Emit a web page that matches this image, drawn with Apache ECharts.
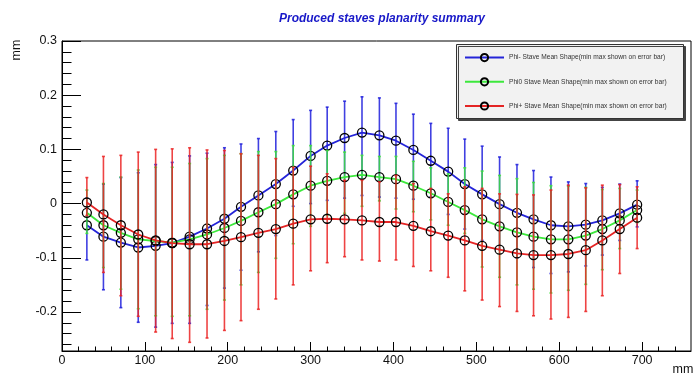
<!DOCTYPE html>
<html>
<head>
<meta charset="utf-8">
<script src="https://cdn.jsdelivr.net/npm/echarts@6/dist/echarts.min.js"></script>
<style>html,body{margin:0;padding:0;background:#fff;}#c{width:693px;height:376px;}</style>
</head>
<body>
<div id="c"></div>
<script>
const xPos = [30, 50, 71, 92, 113, 133, 154, 175, 196, 216, 237, 258, 279, 300, 320, 341, 362, 383, 403, 424, 445, 466, 486, 507, 528, 549, 569, 590, 611, 632, 652, 673, 694];

const phiMinusMean = [-0.040,-0.061,-0.072,-0.081,-0.078,-0.073,-0.061,-0.046,-0.028,-0.006,0.015,0.036,0.061,0.088,0.107,0.121,0.131,0.126,0.116,0.099,0.079,0.059,0.036,0.017,-0.001,-0.017,-0.029,-0.040,-0.042,-0.039,-0.031,-0.018,-0.002];
const phiMinusMax  = [0.010,0.036,0.048,0.057,0.072,0.076,0.088,0.093,0.103,0.110,0.120,0.133,0.155,0.172,0.178,0.189,0.197,0.195,0.185,0.165,0.148,0.139,0.119,0.106,0.086,0.072,0.061,0.049,0.040,0.037,0.030,0.036,0.042];
const phiMinusMin  = [-0.104,-0.159,-0.192,-0.219,-0.228,-0.221,-0.221,-0.188,-0.156,-0.123,-0.089,-0.059,-0.005,0.000,0.006,0.010,0.015,0.012,0.010,0.008,0.012,-0.020,-0.047,-0.068,-0.085,-0.100,-0.118,-0.129,-0.126,-0.115,-0.095,-0.068,-0.043];

const phi0Mean = [-0.017,-0.040,-0.054,-0.066,-0.069,-0.072,-0.066,-0.057,-0.045,-0.032,-0.016,-0.001,0.017,0.033,0.042,0.049,0.053,0.049,0.045,0.033,0.019,0.003,-0.012,-0.029,-0.042,-0.053,-0.061,-0.066,-0.066,-0.059,-0.047,-0.031,-0.012];
const phi0Max  = [0.025,0.037,0.049,0.062,0.067,0.067,0.074,0.083,0.089,0.092,0.096,0.096,0.107,0.107,0.098,0.095,0.089,0.087,0.087,0.078,0.066,0.055,0.066,0.060,0.052,0.046,0.039,0.033,0.032,0.030,0.026,0.028,0.025];
const phi0Min  = [-0.055,-0.118,-0.158,-0.194,-0.207,-0.208,-0.207,-0.195,-0.178,-0.150,-0.127,-0.101,-0.074,-0.042,-0.022,-0.018,-0.005,0.005,-0.010,-0.015,-0.030,-0.040,-0.055,-0.117,-0.136,-0.150,-0.158,-0.165,-0.160,-0.149,-0.122,-0.083,-0.035];

const phiPlusMean = [0.002,-0.020,-0.040,-0.057,-0.068,-0.073,-0.075,-0.075,-0.069,-0.062,-0.054,-0.047,-0.037,-0.029,-0.028,-0.029,-0.031,-0.034,-0.034,-0.041,-0.051,-0.059,-0.068,-0.078,-0.085,-0.092,-0.095,-0.095,-0.093,-0.086,-0.068,-0.047,-0.026];
const phiPlusMax  = [0.048,0.087,0.089,0.095,0.100,0.101,0.103,0.099,0.098,0.092,0.089,0.083,0.067,0.069,0.055,0.043,0.043,0.040,0.052,0.037,0.028,0.018,0.031,0.028,0.018,0.017,0.016,0.025,0.034,0.029,0.034,0.035,0.031];
const phiPlusMin  = [-0.022,-0.127,-0.170,-0.208,-0.237,-0.249,-0.256,-0.248,-0.234,-0.216,-0.195,-0.176,-0.150,-0.124,-0.109,-0.098,-0.104,-0.106,-0.104,-0.116,-0.124,-0.136,-0.161,-0.178,-0.190,-0.199,-0.207,-0.213,-0.210,-0.199,-0.170,-0.129,-0.083];

const seriesNames = ['Phi- Stave Mean Shape(min max shown on error bar)', 'Phi0 Stave Mean Shape(min max shown on error bar)', 'Phi+ Stave Mean Shape(min max shown on error bar)'];

const xLabelTicks = [0, 100, 200, 300, 400, 500, 600, 700];
const xMinorTicks = [20,40,60,80,120,140,160,180,220,240,260,280,320,340,360,380,420,440,460,480,520,540,560,580,620,640,660,680,720,740];
const yLabelTicks = [-0.2, -0.1, 0, 0.1, 0.2, 0.3];
const yMinorTicks = [-0.26,-0.24,-0.22,-0.18,-0.16,-0.14,-0.12,-0.08,-0.06,-0.04,-0.02,0.02,0.04,0.06,0.08,0.12,0.14,0.16,0.18,0.22,0.24,0.26,0.28];

const chart = echarts.init(document.getElementById('c'), null, {renderer: 'canvas'});

function errSeries(name, lows, highs, color, z) {
  return {
    type: 'custom', name: name, z: z, silent: true,
    xAxisIndex: 0, yAxisIndex: 0,
    data: xPos.map((x, i) => [x, lows[i], highs[i]]),
    encode: {x: 0, y: [1, 2]},
    renderItem: function (params, api) {
      const x = api.value(0);
      const lo = api.coord([x, api.value(1)]);
      const hi = api.coord([x, api.value(2)]);
      const st = {stroke: color, lineWidth: 1.6};
      return {type: 'group', children: [
        {type: 'line', shape: {x1: lo[0], y1: lo[1], x2: hi[0], y2: hi[1]}, style: st},
        {type: 'line', shape: {x1: lo[0] - 1.5, y1: lo[1], x2: lo[0] + 1.5, y2: lo[1]}, style: st},
        {type: 'line', shape: {x1: hi[0] - 1.5, y1: hi[1], x2: hi[0] + 1.5, y2: hi[1]}, style: st}
      ]};
    }
  };
}

function meanSeries(name, vals, color, z) {
  return {
    type: 'line', name: name, z: z,
    xAxisIndex: 0, yAxisIndex: 0,
    data: xPos.map((x, i) => [x, vals[i]]),
    symbol: 'circle', symbolSize: 9, showSymbol: true,
    lineStyle: {color: color, width: 1.8},
    itemStyle: {color: 'transparent', borderColor: '#000', borderWidth: 1.3},
    emphasis: {disabled: true},
    animation: false
  };
}

const blue = '#2424d8', green = '#3de83d', red = '#e42424';

chart.setOption({
  animation: false,
  backgroundColor: '#fff',
  textStyle: {fontFamily: 'Liberation Sans, Arial, sans-serif'},
  title: {
    text: 'Produced staves planarity summary',
    left: 377, top: 8, textAlign: 'center',
    textStyle: {color: '#1818c8', fontSize: 12, fontWeight: 'bold', fontStyle: 'italic', fontFamily: 'Liberation Sans, Arial, sans-serif'}
  },
  grid: {left: 62, right: 2, top: 41, bottom: 25, show: true, borderColor: '#000', borderWidth: 1, backgroundColor: 'transparent'},
  xAxis: [
    {type: 'value', min: 0, max: 759, position: 'bottom',
     axisLine: {show: true, onZero: false, lineStyle: {color: '#000', width: 1}},
     axisTick: {show: true, inside: true, length: 9, customValues: xLabelTicks, lineStyle: {color: '#000'}},
     axisLabel: {customValues: xLabelTicks, color: '#111', fontSize: 12.5, margin: 3},
     splitLine: {show: false}},
    {type: 'value', min: 0, max: 759, position: 'bottom',
     axisLine: {show: false, onZero: false},
     axisTick: {show: true, inside: true, length: 4.5, customValues: xMinorTicks, lineStyle: {color: '#000'}},
     axisLabel: {show: false}, splitLine: {show: false}}
  ],
  yAxis: [
    {type: 'value', min: -0.272, max: 0.3, position: 'left',
     axisLine: {show: true, onZero: false, lineStyle: {color: '#000', width: 1}},
     axisTick: {show: true, inside: true, length: 19, customValues: yLabelTicks, lineStyle: {color: '#000'}},
     axisLabel: {customValues: yLabelTicks, color: '#111', fontSize: 12.5, margin: 5},
     splitLine: {show: false}},
    {type: 'value', min: -0.272, max: 0.3, position: 'left',
     axisLine: {show: false, onZero: false},
     axisTick: {show: true, inside: true, length: 9.5, customValues: yMinorTicks, lineStyle: {color: '#000'}},
     axisLabel: {show: false}, splitLine: {show: false}}
  ],
  legend: {
    data: seriesNames,
    orient: 'vertical', left: 464, top: 53,
    itemWidth: 39, itemHeight: 9, itemGap: 15, padding: 0,
    selectedMode: false,
    textStyle: {fontSize: 6.6, color: '#333', fontFamily: 'Liberation Sans, Arial, sans-serif'}
  },
  graphic: [
    {type: 'rect', z: 0, left: 456, top: 44, shape: {width: 227, height: 74},
     style: {fill: '#f2f2f2', stroke: '#333', lineWidth: 1, shadowColor: '#444', shadowOffsetX: 2, shadowOffsetY: 2, shadowBlur: 0}},
    {type: 'text', x: 17, y: 50, rotation: Math.PI / 2,
     style: {text: 'mm', fill: '#111', fontSize: 12.5, fontFamily: 'Liberation Sans, Arial, sans-serif', align: 'center', verticalAlign: 'middle'}},
    {type: 'text', x: 683, y: 370,
     style: {text: 'mm', fill: '#111', fontSize: 12.5, fontFamily: 'Liberation Sans, Arial, sans-serif', align: 'center', verticalAlign: 'middle'}}
  ],
  series: [
    errSeries('err-', phiMinusMin, phiMinusMax, 'rgba(30,30,220,0.85)', 2),
    meanSeries(seriesNames[0], phiMinusMean, blue, 3),
    errSeries('err0', phi0Min, phi0Max, 'rgba(60,225,60,0.85)', 4),
    meanSeries(seriesNames[1], phi0Mean, green, 5),
    errSeries('err+', phiPlusMin, phiPlusMax, 'rgba(235,35,35,0.85)', 6),
    meanSeries(seriesNames[2], phiPlusMean, red, 7)
  ]
});
</script>
</body>
</html>
